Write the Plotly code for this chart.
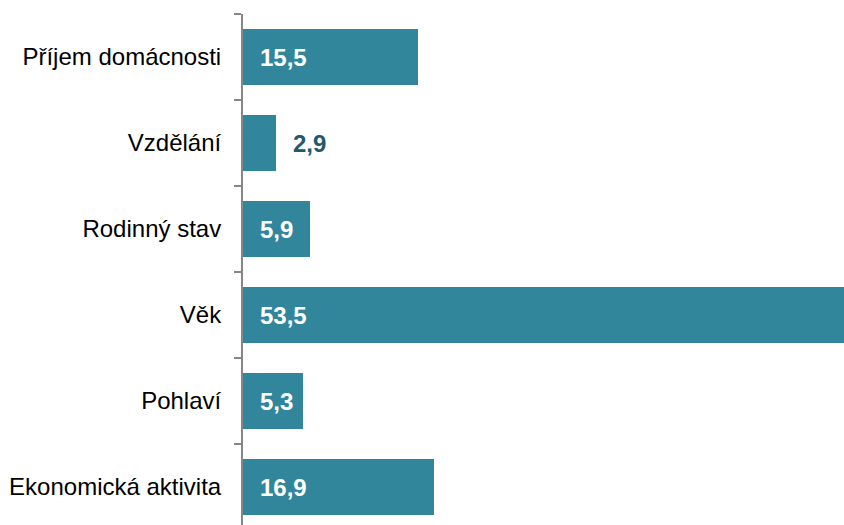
import plotly.graph_objects as go

# Categories listed top to bottom, with their shares
categories = ["Příjem domácnosti", "Vzdělání", "Rodinný stav", "Věk", "Pohlaví", "Ekonomická aktivita"]
values = [15.5, 2.9, 5.9, 53.5, 5.3, 16.9]
value_labels = ["15,5", "2,9", "5,9", "53,5", "5,3", "16,9"]

BAR_COLOR = "#31869B"
DARK_LABEL = "#215968"
FONT = "Liberation Sans, Arial, sans-serif"

fig = go.Figure(
    go.Bar(
        x=values,
        y=categories,
        orientation="h",
        marker=dict(color=BAR_COLOR, line=dict(width=0)),
        width=0.64,
        hoverinfo="skip",
    )
)

# Value labels: white inside wide bars, dark teal beside narrow ones
annotations = []
for cat, v, lab in zip(categories, values, value_labels):
    inside = v >= 4
    annotations.append(
        dict(
            x=0 if inside else v,
            y=cat,
            xref="x",
            yref="y",
            text=f"<b>{lab}</b>",
            showarrow=False,
            xanchor="left",
            yanchor="middle",
            xshift=15,
            font=dict(family=FONT, size=24, color="white" if inside else DARK_LABEL),
        )
    )

fig.update_layout(
    width=844,
    height=530,
    margin=dict(l=243, r=0, t=14, b=0),
    paper_bgcolor="white",
    plot_bgcolor="white",
    showlegend=False,
    bargap=0,
    annotations=annotations,
    font=dict(family=FONT, size=24, color="#000000"),
)

fig.update_xaxes(
    range=[0, 53.3],
    visible=False,
    showgrid=False,
    zeroline=False,
)

fig.update_yaxes(
    autorange="reversed",
    showline=True,
    linecolor="#868686",
    linewidth=2,
    ticks="outside",
    ticklen=7,
    tickwidth=2,
    tickcolor="#868686",
    tickson="boundaries",
    ticklabelstandoff=15,
    showgrid=False,
    zeroline=False,
    tickfont=dict(family=FONT, size=24, color="#000000"),
)

# The chart runs slightly past the bottom edge of the page; hide scrollbars
fig.write_html(
    "out.html",
    post_script="document.body.style.margin='0';document.body.style.overflow='hidden';",
)
